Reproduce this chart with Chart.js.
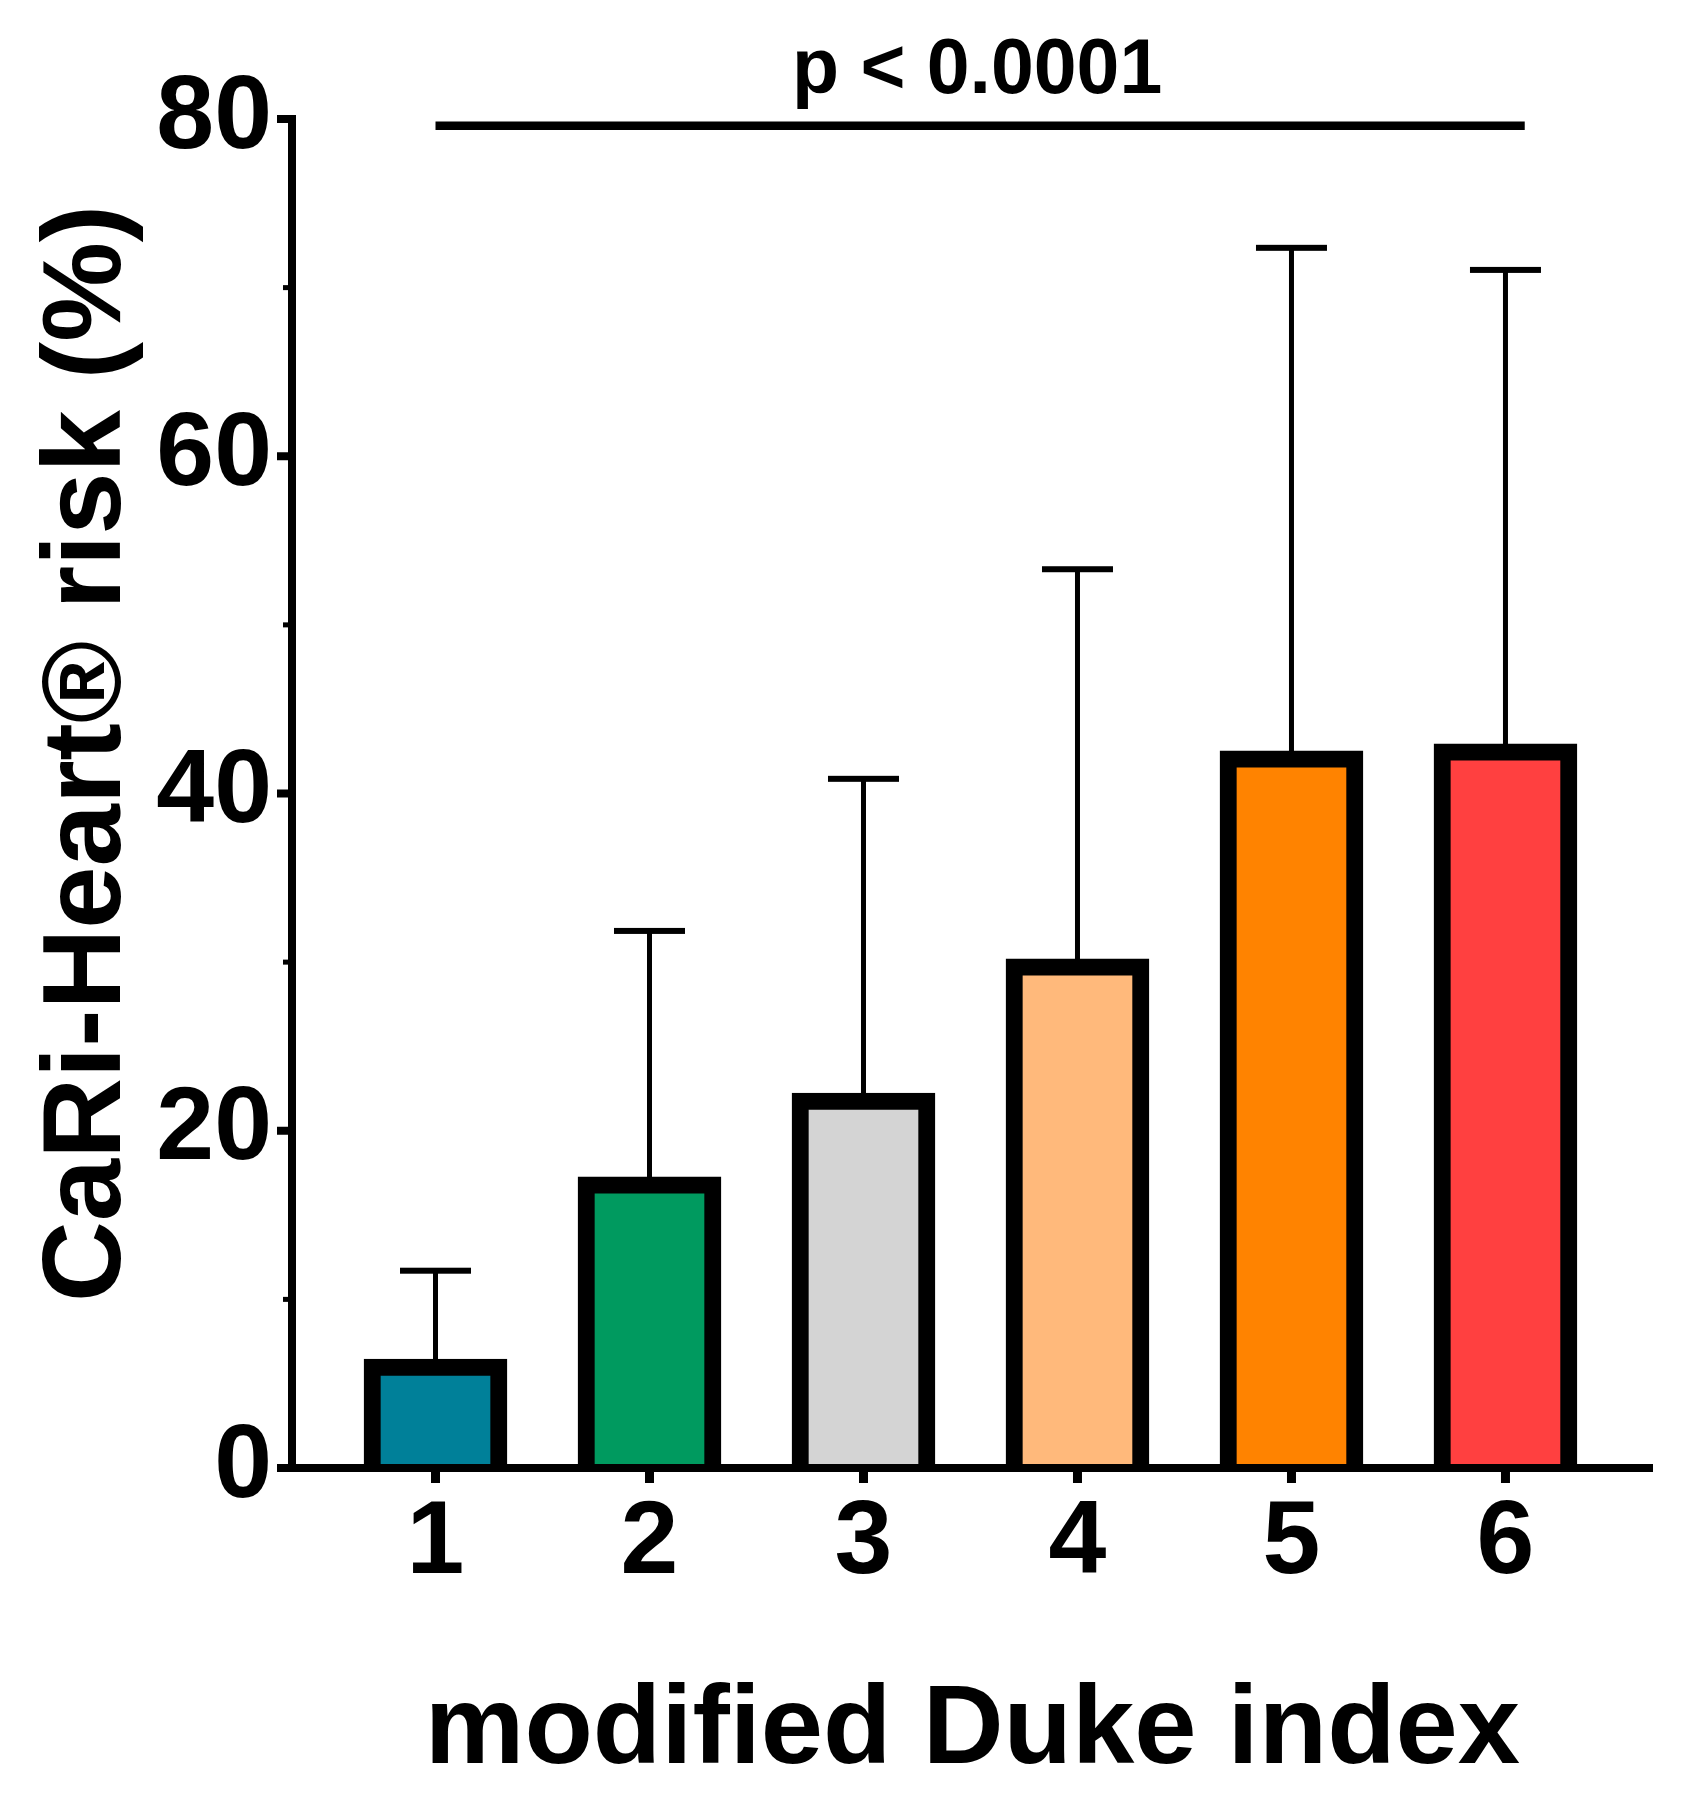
<!DOCTYPE html>
<html>
<head>
<meta charset="utf-8">
<script src="https://cdn.jsdelivr.net/npm/chart.js@4/dist/chart.umd.min.js"></script>
<style>
  html, body { margin: 0; padding: 0; background: #ffffff; }
  #wrap { width: 1682px; height: 1805px; position: relative; }
</style>
</head>
<body>
<div id="wrap"><canvas id="c" width="1682" height="1805"></canvas></div>
<script>
// ---- data ----
const categories = [1, 2, 3, 4, 5, 6];
const meanRisk = [6.46, 17.26, 22.24, 30.19, 42.53, 42.94];
const errorTop = [11.7, 31.85, 40.87, 53.3, 72.36, 71.05];
const barColors = ['#008099', '#009A5F', '#D4D4D4', '#FFB97B', '#FF8300', '#FF4040'];
const yTicks = [0, 20, 40, 60, 80];
const yMinorTicks = [10, 30, 50, 70];
const sigSpan = [1, 6.09];
const sigLevel = 79.6;
const sigText = 'p < 0.0001';
const xTitle = 'modified Duke index';
const yTitle = 'CaRi-Heart\u00AE risk (%)';

const FONT = "'Liberation Sans', Arial, Helvetica, sans-serif";

const prismPlugin = {
  id: 'prism',
  beforeDatasetsDraw(chart) {
    const ctx = chart.ctx;
    const ys = chart.scales.y;
    const meta = chart.getDatasetMeta(0);
    ctx.save();
    ctx.fillStyle = '#000';
    meta.data.forEach((el, i) => {
      const top = ys.getPixelForValue(errorTop[i]);
      ctx.fillRect(el.x - 2.5, top, 5, el.y - top + 2);
      ctx.fillRect(el.x - 35.5, top - 3, 71, 6);
    });
    ctx.restore();
  },
  afterDatasetsDraw(chart) {
    const ctx = chart.ctx;
    const ys = chart.scales.y, xs = chart.scales.x;
    const area = chart.chartArea;
    const y0 = ys.getPixelForValue(0);
    const yTopAxis = ys.getPixelForValue(80);
    ctx.save();
    ctx.fillStyle = '#000';
    // y axis
    ctx.fillRect(area.left - 4, yTopAxis - 4, 8, y0 + 4 - (yTopAxis - 4));
    // x axis
    ctx.fillRect(area.left - 15, y0 - 4, area.right - (area.left - 15), 8);
    // y major ticks
    yTicks.forEach(v => {
      const p = ys.getPixelForValue(v);
      ctx.fillRect(area.left - 15, p - 4, 15, 8);
    });
    // y minor ticks
    yMinorTicks.forEach(v => {
      const p = ys.getPixelForValue(v);
      ctx.fillRect(area.left - 9, p - 2.5, 9, 5);
    });
    // x ticks
    categories.forEach(c => {
      const p = xs.getPixelForValue(c);
      ctx.fillRect(p - 4.5, y0, 9, 15);
    });
    // significance line
    const sx1 = xs.getPixelForValue(sigSpan[0]);
    const sx2 = xs.getPixelForValue(sigSpan[1]);
    const sy = ys.getPixelForValue(sigLevel);
    ctx.fillRect(sx1, sy - 4.25, sx2 - sx1, 8.5);
    ctx.font = 'bold 77px ' + FONT;
    ctx.textAlign = 'center';
    ctx.textBaseline = 'alphabetic';
    ctx.fillText(sigText, (sx1 + sx2) / 2 - 3, sy - 33);
    // x title
    ctx.font = 'bold 112px ' + FONT;
    ctx.fillText(xTitle, (area.left + area.right) / 2, y0 + 295);
    // y title
    ctx.translate(120, (yTopAxis + y0) / 2 - 40);
    ctx.rotate(-Math.PI / 2);
    ctx.fillText(yTitle, 0, 0);
    ctx.restore();
  }
};

new Chart(document.getElementById('c'), {
  type: 'bar',
  data: {
    datasets: [{
      data: categories.map((c, i) => ({ x: c, y: meanRisk[i] })),
      backgroundColor: barColors,
      borderColor: '#000000',
      borderWidth: 17,
      borderSkipped: 'start',
      barThickness: 143
    }]
  },
  options: {
    responsive: false,
    animation: false,
    devicePixelRatio: 1,
    layout: { padding: { left: 0, right: 29, top: 119, bottom: 0 } },
    plugins: { legend: { display: false }, tooltip: { enabled: false } },
    scales: {
      x: {
        type: 'linear',
        offset: false,
        min: 0.3294,
        max: 6.6894,
        afterFit(s) { s.height = 337; },
        afterBuildTicks(s) { s.ticks = categories.map(v => ({ value: v })); },
        grid: { display: false, drawTicks: false, offset: false },
        border: { display: false },
        ticks: {
          autoSkip: false,
          maxRotation: 0,
          padding: 14,
          color: '#000',
          font: { family: FONT, size: 104, weight: 'bold', lineHeight: 1.2 },
          callback: v => String(v)
        }
      },
      y: {
        min: 0,
        max: 80,
        afterFit(s) { s.width = 292; },
        afterBuildTicks(s) { s.ticks = yTicks.map(v => ({ value: v })); },
        grid: { display: false, drawTicks: false },
        border: { display: false },
        ticks: {
          padding: 20,
          color: '#000',
          font: { family: FONT, size: 104, weight: 'bold', lineHeight: 1.2 }
        }
      }
    }
  },
  plugins: [prismPlugin]
});
</script>
</body>
</html>
